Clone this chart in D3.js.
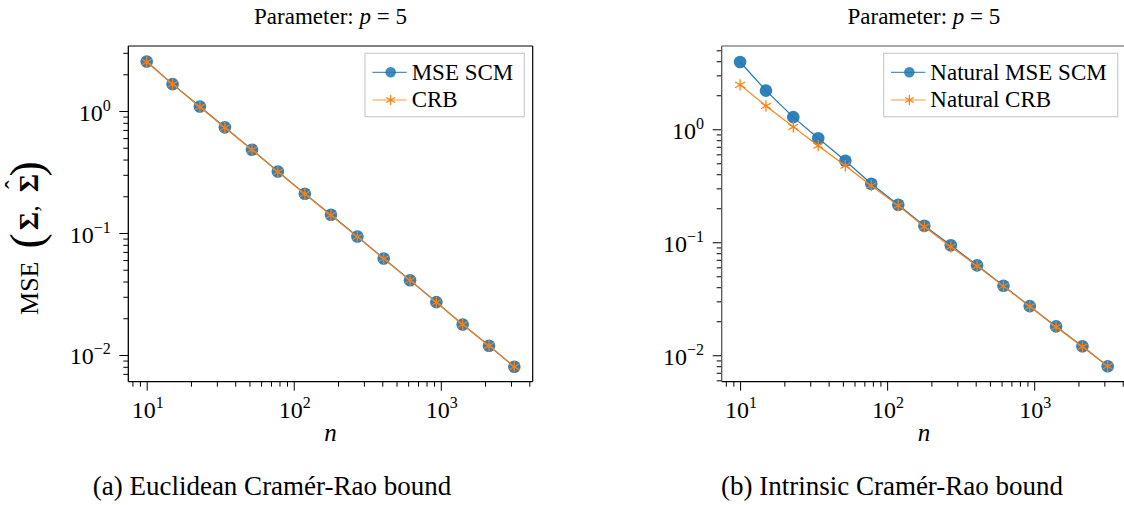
<!DOCTYPE html>
<html>
<head>
<meta charset="utf-8">
<script src="https://cdn.jsdelivr.net/npm/d3@7"></script>
<style>
  body { margin: 0; background: #fff; }
  svg text { font-family: 'Liberation Serif', 'Times New Roman', serif; fill: #000; }
</style>
</head>
<body>
<svg id="fig" width="1124" height="505"></svg>
<script>
// sample sizes n (log-spaced)
const nSamples = [10, 15, 23, 34, 52, 78, 119, 179, 271, 409, 618, 933, 1409, 2128, 3162];

// (a) Euclidean
const mseScmEuclid = [2.55, 1.66, 1.09, 0.735, 0.482, 0.319, 0.210, 0.141, 0.0935, 0.0618, 0.0410, 0.0271, 0.0178, 0.0119, 0.0080];
const crbEuclid    = [2.52, 1.66, 1.08, 0.730, 0.481, 0.317, 0.209, 0.140, 0.0930, 0.0616, 0.0409, 0.0270, 0.0178, 0.0119, 0.0080];

// (b) Intrinsic
const mseScmNatural = [3.94, 2.20, 1.28, 0.832, 0.527, 0.330, 0.215, 0.140, 0.0940, 0.0625, 0.0412, 0.0272, 0.0180, 0.0120, 0.0080];
const crbNatural    = [2.47, 1.61, 1.05, 0.716, 0.476, 0.317, 0.211, 0.137, 0.0914, 0.0616, 0.0409, 0.0270, 0.0178, 0.0119, 0.0080];

const xMajorExp = [1, 2, 3];
const yMajorExp = [0, -1, -2];

const blue = "#1f77b4", orange = "#ff7f0e";
const svg = d3.select("#fig");

const panels = [
  {left: 128.3, top: 46, ylo: -2.219, yhi: 0.533, scm: mseScmEuclid, crb: crbEuclid,
   names: ["MSE SCM", "CRB"], caption: "(a) Euclidean Cramér-Rao bound", capX: 272, spine: "#000", ylabel: true},
  {left: 721.7, top: 46, ylo: -2.234, yhi: 0.737, scm: mseScmNatural, crb: crbNatural,
   names: ["Natural MSE SCM", "Natural CRB"], caption: "(b) Intrinsic Cramér-Rao bound", capX: 892, spine: "#555", ylabel: false}
];
const W = 404.4, H = 335.7;

function minorTicks(lo, hi) {
  let out = [];
  for (let e = Math.floor(lo); e <= Math.ceil(hi); e++)
    for (let m = 2; m <= 9; m++) {
      let v = m * Math.pow(10, e);
      if (Math.log10(v) >= lo && Math.log10(v) <= hi) out.push(v);
    }
  return out;
}

function star(r) {
  let c = r * Math.cos(Math.PI / 6), s = r * Math.sin(Math.PI / 6);
  return `M0,${-r}L0,${r}M${-c},${-s}L${c},${s}M${-c},${s}L${c},${-s}`;
}

function supLabel(sel, exp) {
  sel.text("10");
  sel.append("tspan").attr("dy", -10).style("font-size", "16px")
    .text(exp < 0 ? "\u2212" + (-exp) : exp);
}

panels.forEach(p => {
  const g = svg.append("g").attr("transform", `translate(${p.left},${p.top})`);
  const x = d3.scaleLog().domain([Math.pow(10, 0.875), Math.pow(10, 3.625)]).range([0, W]);
  const y = d3.scaleLog().domain([Math.pow(10, p.ylo), Math.pow(10, p.yhi)]).range([H, 0]);

  // minor + major ticks
  g.append("g").attr("transform", `translate(0,${H})`)
    .call(d3.axisBottom(x).tickValues(minorTicks(0.875, 3.625)).tickSize(5).tickFormat(""));
  g.append("g").attr("transform", `translate(0,${H})`)
    .call(d3.axisBottom(x).tickValues(xMajorExp.map(e => Math.pow(10, e))).tickSize(9).tickFormat(""));
  g.append("g").call(d3.axisLeft(y).tickValues(minorTicks(p.ylo, p.yhi)).tickSize(5).tickFormat(""));
  g.append("g").call(d3.axisLeft(y).tickValues(yMajorExp.map(e => Math.pow(10, e))).tickSize(9).tickFormat(""));
  g.selectAll(".domain").remove();
  g.selectAll(".tick line").attr("stroke", "#000").attr("stroke-width", 1);

  xMajorExp.forEach(e => {
    g.append("text").attr("x", x(Math.pow(10, e)) + 1).attr("y", H + 36)
      .attr("text-anchor", "middle").style("font-size", "24px")
      .call(supLabel, e);
  });
  yMajorExp.forEach(e => {
    g.append("text").attr("x", -17.6).attr("y", y(Math.pow(10, e)) + 9.5)
      .attr("text-anchor", "end").style("font-size", "24px")
      .call(supLabel, e);
  });

  // spines
  g.append("line").attr("x1", 0).attr("x2", W).attr("y1", H).attr("y2", H).attr("stroke", "#000").attr("stroke-width", 1.2);
  g.append("line").attr("x1", 0).attr("x2", W).attr("y1", 0).attr("y2", 0).attr("stroke", p.spine).attr("stroke-width", 1.2);
  g.append("line").attr("x1", 0).attr("x2", 0).attr("y1", 0).attr("y2", H).attr("stroke", p.spine).attr("stroke-width", 1.3);
  g.append("line").attr("x1", W).attr("x2", W).attr("y1", 0).attr("y2", H).attr("stroke", "#000").attr("stroke-width", 1.2);

  const line = d3.line().x((d, i) => x(nSamples[i])).y(d => y(d));

  // SCM series
  g.append("path").datum(p.scm).attr("d", line)
    .attr("fill", "none").attr("stroke", blue).attr("stroke-width", 1.2);
  g.selectAll(".dot").data(p.scm).enter().append("circle")
    .attr("cx", (d, i) => x(nSamples[i])).attr("cy", d => y(d)).attr("r", 6.3)
    .attr("fill", blue).attr("fill-opacity", 0.92);

  // CRB series
  g.append("path").datum(p.crb).attr("d", line)
    .attr("fill", "none").attr("stroke", orange).attr("stroke-width", 1.2);
  g.selectAll(".star").data(p.crb).enter().append("path")
    .attr("transform", (d, i) => `translate(${x(nSamples[i])},${y(d)})`)
    .attr("d", star(5.7)).attr("fill", "none").attr("stroke", orange).attr("stroke-width", 1.3);

  // legend
  const lg = g.append("g");
  const box = lg.append("rect").attr("fill", "#fff").attr("fill-opacity", 0.85)
    .attr("stroke", "#cccccc").attr("stroke-width", 1.2);
  let maxw = 0;
  p.names.forEach((name, i) => {
    const ry = 19 + i * 27.7;
    const t = lg.append("text").attr("x", 46.7).attr("y", ry + 7.5).style("font-size", "23px").text(name);
    maxw = Math.max(maxw, t.node().getComputedTextLength());
    lg.append("line").attr("x1", 7.4).attr("x2", 41.7).attr("y1", ry).attr("y2", ry)
      .attr("stroke", i == 0 ? blue : orange).attr("stroke-width", 1.2).attr("stroke-opacity", 0.8);
    if (i == 0)
      lg.append("circle").attr("cx", 25.7).attr("cy", ry).attr("r", 5.3).attr("fill", blue).attr("fill-opacity", 0.85);
    else
      lg.append("path").attr("transform", `translate(25.7,${ry})`).attr("d", star(5))
        .attr("fill", "none").attr("stroke", orange).attr("stroke-width", 1.2);
  });
  const lw = 46.7 + maxw + 11;
  box.attr("width", lw).attr("height", 63.4);
  lg.attr("transform", `translate(${W - 8.4 - lw},7.3)`);

  // title, x label, caption
  svg.append("text").attr("x", p.left + W / 2).attr("y", 24).attr("text-anchor", "middle")
    .style("font-size", "23px")
    .call(s => { s.append("tspan").text("Parameter: "); s.append("tspan").style("font-style", "italic").text("p");
                 s.append("tspan").text(" = 5"); });
  svg.append("text").attr("x", p.left + W / 2).attr("y", 441).attr("text-anchor", "middle")
    .style("font-size", "25px").style("font-style", "italic").text("n");
  svg.append("text").attr("x", p.capX).attr("y", 495).attr("text-anchor", "middle")
    .style("font-size", "27px").text(p.caption);

  if (p.ylabel) {
    // MSE ( Σ, Σ̂ ) rotated
    const t = svg.append("text").attr("transform", "translate(38,238) rotate(-90)")
      .attr("text-anchor", "middle").style("font-size", "26px");
    t.append("tspan").text("MSE\u2002");
    t.append("tspan").style("font-size", "46px").attr("dy", 4).text("(");
    t.append("tspan").attr("dy", -4).attr("dx", 3).style("font-weight", "bold").style("font-size", "28px").text("\u03A3");
    t.append("tspan").text(",\u2002");
    t.append("tspan").style("font-weight", "bold").style("font-size", "28px").text("\u03A3");
    t.append("tspan").attr("dx", -15).attr("dy", -15).text("\u02C6");
    t.append("tspan").attr("dx", 4).style("font-size", "46px").attr("dy", 19).text(")");
  }
});
</script>
</body>
</html>
